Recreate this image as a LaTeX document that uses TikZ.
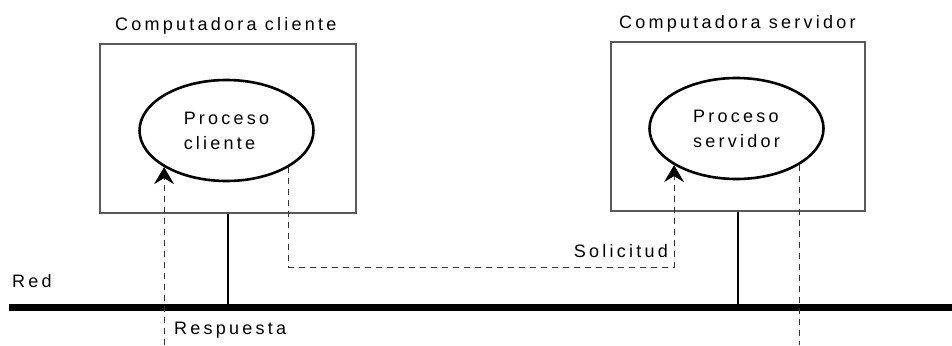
\documentclass[tikz,border=0pt]{standalone}
\usepackage{fontspec}
\setmainfont{Liberation Sans}[LetterSpace=18]
\usetikzlibrary{arrows.meta,shapes.geometric}
\begin{document}
\begin{tikzpicture}[x=1pt,y=-1pt,
  txt/.style={font=\fontsize{18}{25}\selectfont, inner sep=0pt},
  hostbox/.style={draw=black!65, line width=1.2pt, rectangle, inner sep=0pt},
  proc/.style={draw, ellipse, line width=2.6pt, minimum width=174pt, minimum height=101pt,
    inner sep=0pt, align=left, font=\fontsize{18}{25}\selectfont},
  msg/.style={draw=black!80, line width=0.9pt, dash pattern=on 6pt off 5pt},
  tip/.style={-{Stealth[length=17pt,width=20pt,inset=6pt,color=black]}},
  link/.style={line width=2.8pt},
  net/.style={line width=6.5pt}]
\useasboundingbox (0,0) rectangle (952,345);

% host computers
\node[hostbox, minimum width=256pt, minimum height=169pt] (cbox) at (228,128.5) {};
\node[hostbox, minimum width=254pt, minimum height=169pt] (sbox) at (738,126.5) {};
\node[txt, anchor=base west] (ctitle) at (115,31) {Computadora cliente};
\node[txt, anchor=base west] (stitle) at (619,29) {Computadora servidor};

% processes
\node[proc] (pc) at (226.5,130.5) {Proceso\\cliente};
\node[proc] (ps) at (736.5,128.5) {Proceso\\servidor};

% network
\coordinate (netw) at (9,307.5);
\coordinate (nete) at (952,307.5);
\draw[net] (netw) -- (nete);
\node[txt, anchor=base west] (red) at (12,287) {Red};
\draw[link] (cbox.south) -- (cbox.south |- netw);
\draw[link] (sbox.south) -- (sbox.south |- netw);

% request: client -> server
\coordinate (reqy) at (0,267);
\draw[msg, tip] (pc.south east) -- (pc.south east |- reqy) -| (ps.south west);
\node[txt, anchor=base east] (sol) at (668,257) {Solicitud};

% reply: server -> client
\coordinate (bot) at (0,345);
\draw[msg] (ps.south east) -- (ps.south east |- bot);
\draw[msg, tip] (pc.south west |- bot) -- (pc.south west);
\node[txt, anchor=base west] (resp) at (174,334) {Respuesta};
\end{tikzpicture}
\end{document}
